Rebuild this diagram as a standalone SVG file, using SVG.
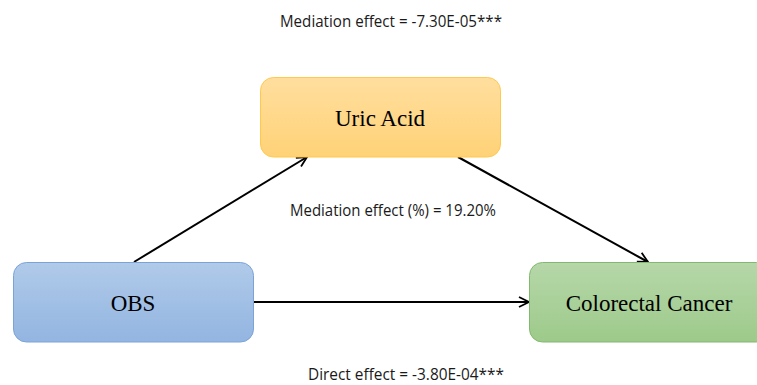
<svg xmlns="http://www.w3.org/2000/svg" width="757" height="385" viewBox="0 0 757 385">
<defs>
<linearGradient id="gY" x1="0" y1="0" x2="0" y2="1"><stop offset="0" stop-color="#FFDE9E"/><stop offset="1" stop-color="#FFD277"/></linearGradient>
<linearGradient id="gB" x1="0" y1="0" x2="0" y2="1"><stop offset="0" stop-color="#B0CAE9"/><stop offset="1" stop-color="#93B5E1"/></linearGradient>
<linearGradient id="gG" x1="0" y1="0" x2="0" y2="1"><stop offset="0" stop-color="#B6D7A9"/><stop offset="1" stop-color="#9DCA8A"/></linearGradient>
<marker id="arr" viewBox="0 0 12 12" refX="11" refY="6" markerWidth="12" markerHeight="12" markerUnits="userSpaceOnUse" orient="auto">
<path d="M1,1 L11,6 L1,11" fill="none" stroke="#000" stroke-width="1.8"/>
</marker>
</defs>
<style>
.node{stroke-width:1}
.lbl{font-family:"Liberation Serif","Times New Roman",serif;font-size:23px;fill:#000;text-anchor:middle}
.eff{font-family:"Open Sans","Liberation Sans",sans-serif;font-size:15.5px;fill:#1a1a1a}
.conn{stroke:#000;stroke-width:2;fill:none;marker-end:url(#arr)}
</style>
<rect width="757" height="385" fill="#fff"/>
<g id="connectors">
<line class="conn" x1="134" y1="262" x2="307" y2="157"/>
<line class="conn" x1="458" y1="157" x2="648" y2="262"/>
<line class="conn" x1="254" y1="302" x2="529" y2="302"/>
</g>
<g id="uric-acid">
<rect class="node" x="260.5" y="77.5" width="240" height="79.5" rx="13" fill="url(#gY)" stroke="#FFC94D"/>
<text class="lbl" x="380" y="126">Uric Acid</text>
</g>
<g id="obs">
<rect class="node" x="13.5" y="262.5" width="240" height="79.5" rx="13" fill="url(#gB)" stroke="#7BA3D8"/>
<text class="lbl" x="133" y="311">OBS</text>
</g>
<g id="colorectal-cancer">
<rect class="node" x="529.5" y="262.5" width="240" height="79.5" rx="13" fill="url(#gG)" stroke="#82B96F"/>
<text class="lbl" x="649" y="311">Colorectal Cancer</text>
</g>
<g id="labels">
<text class="eff" x="280" y="27" textLength="222" lengthAdjust="spacingAndGlyphs">Mediation effect = -7.30E-05***</text>
<text class="eff" x="290" y="216" textLength="206" lengthAdjust="spacingAndGlyphs">Mediation effect (%) = 19.20%</text>
<text class="eff" x="308" y="380" textLength="196" lengthAdjust="spacingAndGlyphs">Direct effect = -3.80E-04***</text>
</g>
</svg>
